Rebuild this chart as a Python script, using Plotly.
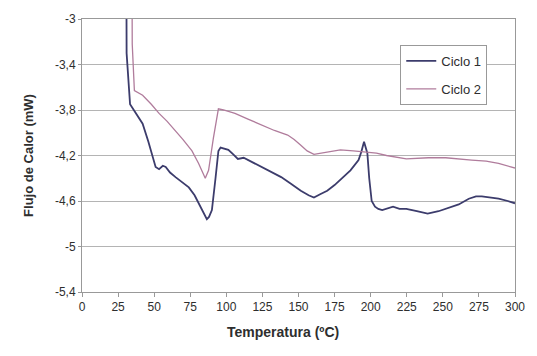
import plotly.graph_objects as go

# Ciclo 1
t1 = [30.8, 30.9, 33.3, 38, 42, 46, 48.8, 51, 53.4, 56, 58, 61, 64.8, 70, 74, 78, 80.8, 84, 86.5, 88, 90,
      92.5, 94.5, 96, 98, 101.4, 104.8, 108, 112, 115, 120, 124, 131, 138, 145, 151.6, 157, 160.7, 165,
      169.9, 175, 181.3, 186, 191.6, 193.5, 195.4, 197.7, 199, 200.7, 203, 205.3, 208, 211, 215.5, 220,
      224.7, 232, 239.5, 247, 254.3, 261, 268, 273, 277, 283, 288.6, 295, 300]
v1 = [-2.8, -3.30, -3.75, -3.84, -3.92, -4.08, -4.21, -4.30, -4.32, -4.29, -4.30, -4.35, -4.39, -4.44,
      -4.48, -4.55, -4.62, -4.70, -4.76, -4.74, -4.68, -4.40, -4.16, -4.13, -4.14, -4.15, -4.19, -4.23,
      -4.22, -4.24, -4.27, -4.30, -4.34, -4.39, -4.45, -4.51, -4.55, -4.57, -4.54, -4.51, -4.46, -4.39,
      -4.33, -4.24, -4.17, -4.08, -4.18, -4.40, -4.60, -4.65, -4.67, -4.68, -4.67, -4.65, -4.67, -4.67,
      -4.69, -4.71, -4.69, -4.66, -4.63, -4.58, -4.56, -4.56, -4.57, -4.58, -4.60, -4.62]

# Ciclo 2
t2 = [34.7, 34.8, 36.3, 42, 48, 53.4, 59, 64.8, 70, 76.2, 80.8, 85.4, 87.7, 91, 94.5, 98, 106, 115, 124,
      133.3, 142.5, 147, 151.6, 156, 160.7, 165, 169.9, 179, 188, 197, 204, 211, 224.7, 240, 252, 270,
      280, 288.6, 295, 300]
v2 = [-2.8, -3.22, -3.63, -3.67, -3.75, -3.83, -3.90, -3.98, -4.06, -4.16, -4.27, -4.40, -4.33, -4.05,
      -3.79, -3.80, -3.83, -3.88, -3.93, -3.98, -4.02, -4.06, -4.11, -4.16, -4.19, -4.18, -4.17, -4.15,
      -4.16, -4.17, -4.18, -4.20, -4.23, -4.22, -4.22, -4.24, -4.25, -4.27, -4.29, -4.31]

x_ticks = [0, 25, 50, 75, 100, 125, 150, 175, 200, 225, 250, 275, 300]
y_ticks = [-3, -3.4, -3.8, -4.2, -4.6, -5, -5.4]
y_tick_text = ["-3", "-3,4", "-3,8", "-4,2", "-4,6", "-5", "-5,4"]

font_family = "Liberation Sans, Arial, sans-serif"
text_color = "#2e2e2e"

fig = go.Figure()
fig.add_trace(go.Scatter(x=t1, y=v1, mode="lines", name="Ciclo 1", legendgroup="c1",
                         line=dict(color="#3c3c6c", width=1.8)))
fig.add_trace(go.Scatter(x=t2, y=v2, mode="lines", name="Ciclo 2", legendgroup="c2",
                         line=dict(color="#b07c9c", width=1.3)))

fig.update_layout(
    width=537, height=356,
    margin=dict(l=82, r=17, t=18, b=64),
    paper_bgcolor="white", plot_bgcolor="white",
    font=dict(family=font_family, size=12, color=text_color),
    showlegend=True,
    legend=dict(x=0.735, y=0.905, xanchor="left", yanchor="top",
                bgcolor="white", bordercolor="#999999", borderwidth=1,
                font=dict(size=13, color=text_color), tracegroupgap=8),
    annotations=[dict(text="<b>Temperatura (ºC)</b>", xref="paper", yref="paper",
                      x=0.4635, y=-0.146, xanchor="center", yanchor="middle",
                      showarrow=False, font=dict(size=14, color=text_color))],
)
fig.update_xaxes(
    range=[0, 300], tickvals=x_ticks, ticktext=[str(v) for v in x_ticks],
    showgrid=False, zeroline=False,
    showline=True, linecolor="#999999", linewidth=1, mirror=True,
    ticks="outside", ticklen=4, tickcolor="#999999",
    tickfont=dict(size=12, color=text_color),
)
fig.update_yaxes(
    range=[-5.4, -3], tickvals=y_ticks, ticktext=y_tick_text,
    showgrid=True, gridcolor="#b4b4b4", gridwidth=1, zeroline=False,
    showline=True, linecolor="#999999", linewidth=1, mirror=True,
    ticks="outside", ticklen=3, tickcolor="#999999",
    tickfont=dict(size=12, color=text_color),
    title=dict(text="<b>Flujo de Calor (mW)</b>", font=dict(size=13, color=text_color), standoff=18),
)

fig.write_html("out.html")
